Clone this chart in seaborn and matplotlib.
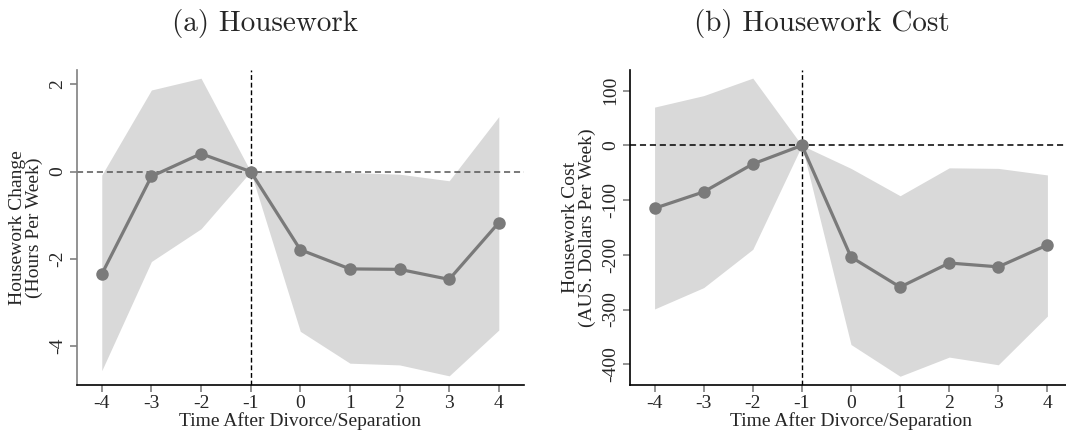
import matplotlib
matplotlib.use("Agg")
import matplotlib.pyplot as plt
import seaborn as sns
import pandas as pd

# event time
periods = [-4, -3, -2, -1, 0, 1, 2, 3, 4]

# (a) housework change, hours per week
hw_coef = [-2.35, -0.11, 0.41, 0.0, -1.79, -2.23, -2.24, -2.47, -1.17]
hw_upper = [-0.08, 1.87, 2.14, 0.0, 0.04, -0.02, -0.06, -0.21, 1.26]
hw_lower = [-4.56, -2.06, -1.31, 0.0, -3.66, -4.39, -4.43, -4.68, -3.63]

# (b) housework cost, AUS dollars per week
cost_coef = [-115, -85, -34, 0, -204, -259, -215, -222, -182]
cost_upper = [70, 91, 123, 0, -42, -92, -41, -42, -54]
cost_lower = [-299, -260, -190, 0, -364, -422, -387, -401, -312]

hw_ticks = [-4, -2, 0, 2]
cost_ticks = [-400, -300, -200, -100, 0, 100]

sns.set_style("ticks")
plt.rcParams["font.family"] = ["Liberation Serif", "DejaVu Serif"]

LINE = "#7a7a7a"
BAND = "#d9d9d9"

fig = plt.figure(figsize=(10.66, 4.34), dpi=100)
ax1 = fig.add_axes([0.0722, 0.1129, 0.419, 0.726])
ax2 = fig.add_axes([0.591, 0.1129, 0.4146, 0.726])


def draw_panel(ax, coef, upper, lower, ylim, yticks, ylabel, hcolor, lspine):
    df = pd.DataFrame({"t": periods, "b": coef, "lo": lower, "hi": upper})
    ax.fill_between(df["t"], df["lo"], df["hi"], color=BAND, lw=0, zorder=1)
    ax.axhline(0, color=hcolor, ls=(0, (4, 2.5)), lw=1.1, zorder=2)
    ax.axvline(-1, color="black", ls=(0, (3.5, 2)), lw=1.0, zorder=2)
    sns.lineplot(data=df, x="t", y="b", ax=ax, color=LINE, lw=2.3,
                 marker="o", markersize=9, markeredgewidth=0, zorder=3)
    ax.set_xlim(-4.5, 4.5)
    ax.set_ylim(*ylim)
    ax.set_xticks(periods)
    ax.set_xticklabels([str(p) for p in periods])
    ax.set_yticks(yticks)
    ax.set_yticklabels([str(v) for v in yticks], rotation=90, va="center")
    ax.tick_params(axis="both", labelsize=14, color="#808080", length=5, width=1.2)
    ax.tick_params(axis="x", pad=2)
    ax.tick_params(axis="y", pad=3)
    ax.set_xlabel("Time After Divorce/Separation", fontsize=14, labelpad=0)
    ax.set_ylabel(ylabel, fontsize=14, linespacing=1.0, labelpad=4)
    sns.despine(ax=ax)
    ax.spines["left"].set_color(lspine)
    ax.spines["left"].set_linewidth(1.2)
    ax.spines["bottom"].set_color("black")
    ax.spines["bottom"].set_linewidth(1.2)


draw_panel(ax1, hw_coef, hw_upper, hw_lower, (-4.89, 2.33), hw_ticks,
           "Housework Change\n(Hours Per Week)", "#555555", "#808080")
draw_panel(ax2, cost_coef, cost_upper, cost_lower, (-438, 138), cost_ticks,
           "Housework Cost\n(AUS. Dollars Per Week)", "black", "black")

fig.text(0.249, 0.947, "(a) Housework", ha="center", va="center",
         fontsize=21, family="cmr10")
fig.text(0.771, 0.947, "(b) Housework Cost", ha="center", va="center",
         fontsize=21, family="cmr10")

fig.savefig("out.png", dpi=100, facecolor="white")
